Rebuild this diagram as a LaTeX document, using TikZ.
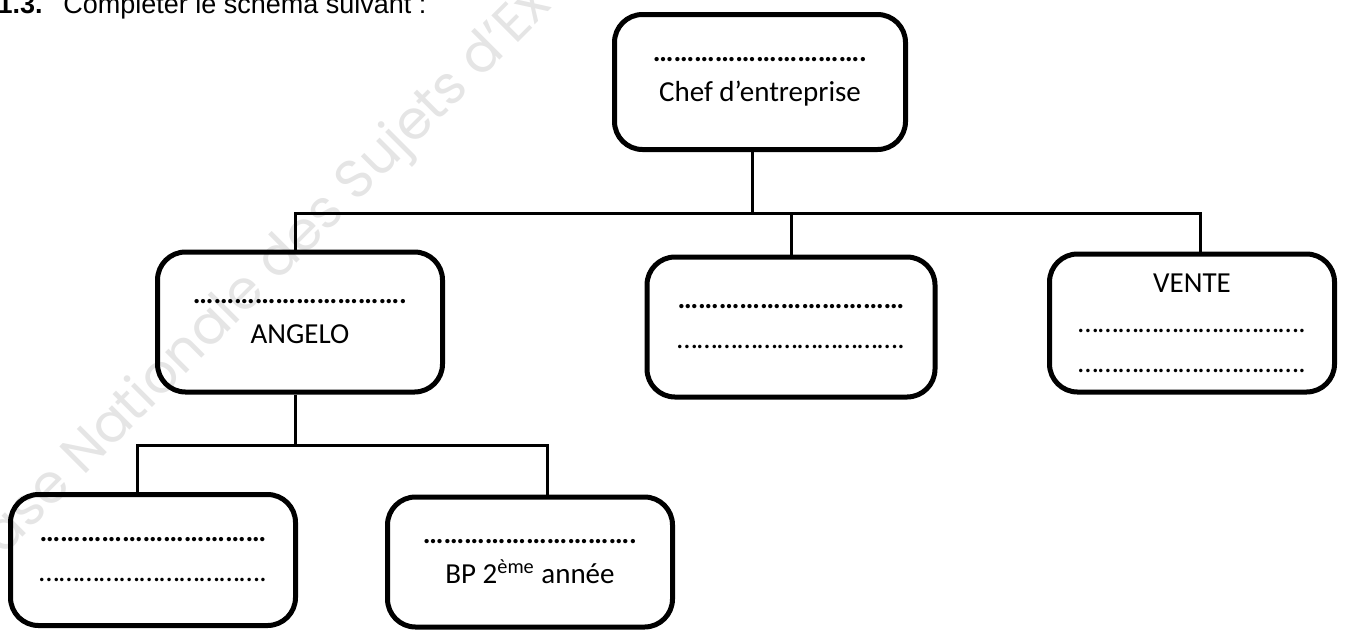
\documentclass[tikz,border=0pt]{standalone}
\usepackage{fontspec}
\setmainfont{Carlito}
\newfontfamily\headfont{Liberation Sans}
\newfontfamily\wmfont{Poppins}
\usepackage{xcolor}
\usetikzlibrary{positioning}

\begin{document}
\begin{tikzpicture}[
  x=0.5pt, y=-0.5pt,
  unit/.style={draw, rectangle, rounded corners=14pt, line width=2.5pt, align=center, inner sep=0pt, font=\fontsize{14.5}{20}\selectfont},
  link/.style={line width=1.5pt, draw=black},
  heading/.style={font=\headfont\fontsize{13.5}{16}\selectfont, inner sep=0pt},
  watermark/.style={font=\wmfont\fontsize{27}{31}\selectfont, text=black!10, rotate=45, inner sep=0pt},
]
\clip (0,0) rectangle (1347,633);

% watermark and heading
\node[watermark, anchor=base west] (wm) at (-20,580) {Base Nationale des Sujets d’Examens};
\node[heading, anchor=base east] (num) at (43,13) {\bfseries 1.3.};
\node[heading, anchor=base west] (title) at (63,13) {Compléter le schéma suivant :};

% Top level
\node[unit, minimum width=145.5pt, minimum height=67.5pt] (chef) at (760,82)
  {\textbf{………………………….}\\Chef d’entreprise};

% Second level
\node[unit, minimum width=142.5pt, minimum height=70pt] (angelo) at (300,322)
  {\textbf{………………………….}\\ANGELO};
\node[unit, minimum width=144pt, minimum height=70pt] (prod) at (791,327)
  {\textbf{……………………………}\\…………………………….};
\node[unit, minimum width=142.5pt, minimum height=69pt] (vente) at (1192,323)
  {VENTE\\…………………………….\\…………………………….};

% Third level
\node[unit, minimum width=142.5pt, minimum height=65.5pt] (adj) at (153,560)
  {\textbf{……………………………}\\…………………………….};
\node[unit, minimum width=142.5pt, minimum height=65pt] (bp) at (530,562)
  {\textbf{………………………….}\\BP 2\textsuperscript{ème} année};

% Connectors
\coordinate (hub) at (752,213);
\coordinate (hubL) at (295,213);
\coordinate (hubR) at (1200,213);
\draw[link] (chef.south -| hub) -- (hub);
\draw[link] (hubL |- angelo.north) -- (hubL) -- (hubR) -- (hubR |- vente.north);
\draw[link] (prod.north |- hub) -- (prod.north);

\coordinate (subL) at (137,445);
\coordinate (subR) at (547,445);
\draw[link] (angelo.south -| hubL) -- (hubL |- subL);
\draw[link] (subL |- adj.north) -- (subL) -- (subR) -- (subR |- bp.north);

\end{tikzpicture}
\end{document}
